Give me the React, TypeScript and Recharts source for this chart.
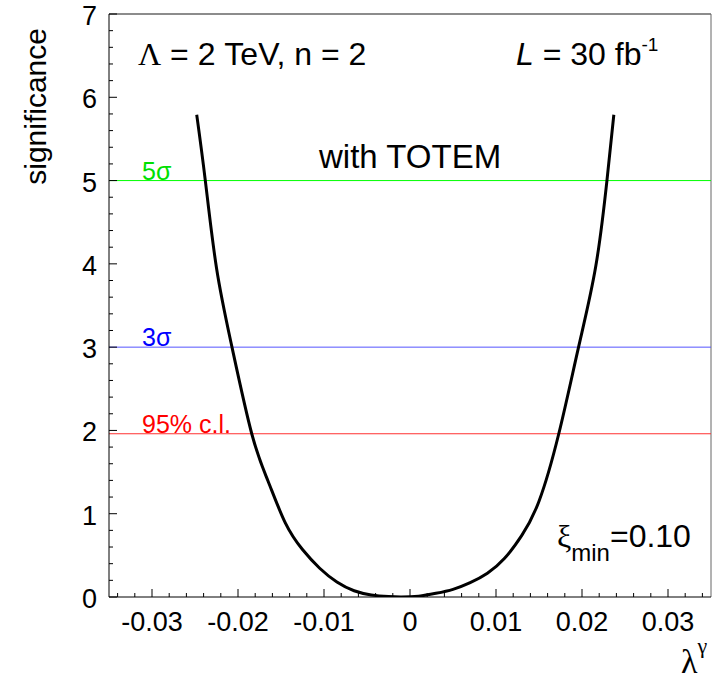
import React from 'react';
import { LineChart, Line, XAxis, YAxis, ReferenceLine } from 'recharts';

// curve: lambda^gamma vs significance
const lambdaGamma = [
  -0.0248, -0.0238, -0.0225, -0.0207, -0.0184, -0.0165, -0.0145, -0.0125, -0.0105, -0.0085,
  -0.0065, -0.0045, -0.0025, -0.001, 0.001, 0.003, 0.005, 0.007, 0.009, 0.011, 0.013, 0.015,
  0.0173, 0.0196, 0.0216, 0.0229, 0.0237,
];
const significance = [
  5.79, 5.0, 3.95, 3.0, 1.96, 1.39, 0.89, 0.57, 0.345, 0.18,
  0.075, 0.025, 0.005, 0.0, 0.01, 0.044, 0.092, 0.172, 0.285, 0.465, 0.74, 1.15,
  1.96, 3.0, 3.97, 5.0, 5.79,
];

const sigmaLevels = [5, 3, 1.96];
const sigmaLabels = ['5σ', '3σ', '95% c.l.'];

const xMajorTicks = [-0.03, -0.02, -0.01, 0, 0.01, 0.02, 0.03];
const xTickLabels = ['-0.03', '-0.02', '-0.01', '0', '0.01', '0.02', '0.03'];
const yMajorTicks = [0, 1, 2, 3, 4, 5, 6, 7];
const yTickLabels = ['0', '1', '2', '3', '4', '5', '6', '7'];

const X_DOMAIN: [number, number] = [-0.035, 0.035];
const Y_DOMAIN: [number, number] = [0, 7];

// minor ticks: 5 subdivisions per major
const xTicks = Array.from({ length: 35 }, (_, i) => Math.round((-0.034 + i * 0.002) * 10000) / 10000);
const yTicks = Array.from({ length: 36 }, (_, i) => Math.round(i * 2) / 10);

const data = lambdaGamma.map((x, i) => ({ x, s: significance[i] }));

const sans = '"Liberation Sans", Arial, Helvetica, sans-serif';
const serif = '"Liberation Serif", "Times New Roman", serif';
const levelColors = ['#00ff00', '#5555ff', '#ff3030'];
const labelColors = ['#00e000', '#0000ff', '#ff0000'];

const XTick = (props: any) => {
  const { x, y, payload } = props;
  const idx = xMajorTicks.findIndex((t) => Math.abs(t - payload.value) < 1e-7);
  const major = idx >= 0;
  return (
    <g>
      <line x1={x} x2={x} y1={y} y2={y - (major ? 8 : 4)} stroke="#000" strokeWidth={1} />
      {major && (
        <text x={x} y={y + 34} textAnchor="middle" fontSize={27} fontFamily={sans} fill="#000">
          {xTickLabels[idx]}
        </text>
      )}
    </g>
  );
};

const YTick = (props: any) => {
  const { x, y, payload } = props;
  const idx = yMajorTicks.findIndex((t) => Math.abs(t - payload.value) < 1e-7);
  const major = idx >= 0;
  return (
    <g>
      <line x1={x} x2={x + (major ? 8 : 4)} y1={y} y2={y} stroke="#000" strokeWidth={1} />
      {major && (
        <text x={x - 12} y={y + 11} textAnchor="end" fontSize={27} fontFamily={sans} fill="#000">
          {yTickLabels[idx]}
        </text>
      )}
    </g>
  );
};

const levelLabel = (i: number) => (props: any) => {
  const vb = props.viewBox || {};
  return (
    <text x={vb.x + 33} y={vb.y - 1} fontSize={25} fontFamily={sans} fill={labelColors[i]}>
      {sigmaLabels[i]}
    </text>
  );
};

export default function App() {
  return (
    <div style={{ position: 'absolute', left: 0, top: 0, width: 718, height: 680, background: '#fff' }}>
      <LineChart width={718} height={680} data={data} margin={{ top: 14, right: 7, bottom: 0, left: 0 }}>
        <XAxis
          dataKey="x"
          type="number"
          domain={X_DOMAIN}
          allowDataOverflow
          ticks={xTicks}
          interval={0}
          tick={<XTick />}
          tickLine={false}
          tickSize={0}
          tickMargin={0}
          height={83}
          axisLine={{ stroke: '#000', strokeWidth: 1 }}
        />
        <YAxis
          type="number"
          domain={Y_DOMAIN}
          allowDataOverflow
          ticks={yTicks}
          interval={0}
          tick={<YTick />}
          tickLine={false}
          tickSize={0}
          tickMargin={0}
          width={109}
          axisLine={{ stroke: '#000', strokeWidth: 1 }}
        />
        <ReferenceLine y={7} stroke="#666" strokeWidth={1.5} />
        <ReferenceLine x={0.035} stroke="#666" strokeWidth={1} />
        {sigmaLevels.map((lv, i) => (
          <ReferenceLine key={lv} y={lv} stroke={levelColors[i]} strokeWidth={1} label={levelLabel(i)} />
        ))}
        <Line
          type="natural"
          dataKey="s"
          stroke="#000"
          strokeWidth={3}
          dot={false}
          isAnimationActive={false}
        />
      </LineChart>
      <svg
        width={718}
        height={680}
        style={{ position: 'absolute', left: 0, top: 0, pointerEvents: 'none' }}
      >
        <text x={138} y={65} fontSize={32} fontFamily={sans} fill="#000">
          <tspan fontFamily={serif}>Λ</tspan> = 2 TeV, n = 2
        </text>
        <text x={516} y={65} fontSize={32} fontFamily={sans} fill="#000">
          <tspan fontStyle="italic">L</tspan> = 30 fb
          <tspan fontSize={19} dy={-14}>-1</tspan>
        </text>
        <text x={319} y={168} fontSize={33} fontFamily={sans} fill="#000">
          with TOTEM
        </text>
        <text x={557} y={547} fontSize={32} fontFamily={sans} fill="#000">
          <tspan fontFamily={serif}>ξ</tspan>
          <tspan fontSize={24} dy={14}>min</tspan>
          <tspan dy={-14}>=0.10</tspan>
        </text>
        <text
          x={46}
          y={28}
          fontSize={30}
          fontFamily={sans}
          fill="#000"
          textAnchor="end"
          transform="rotate(-90 46 28)"
        >
          significance
        </text>
        <text x={681} y={673} fontSize={34} fontFamily={serif} fill="#000">
          λ<tspan fontSize={22} dy={-20}>γ</tspan>
        </text>
      </svg>
    </div>
  );
}
